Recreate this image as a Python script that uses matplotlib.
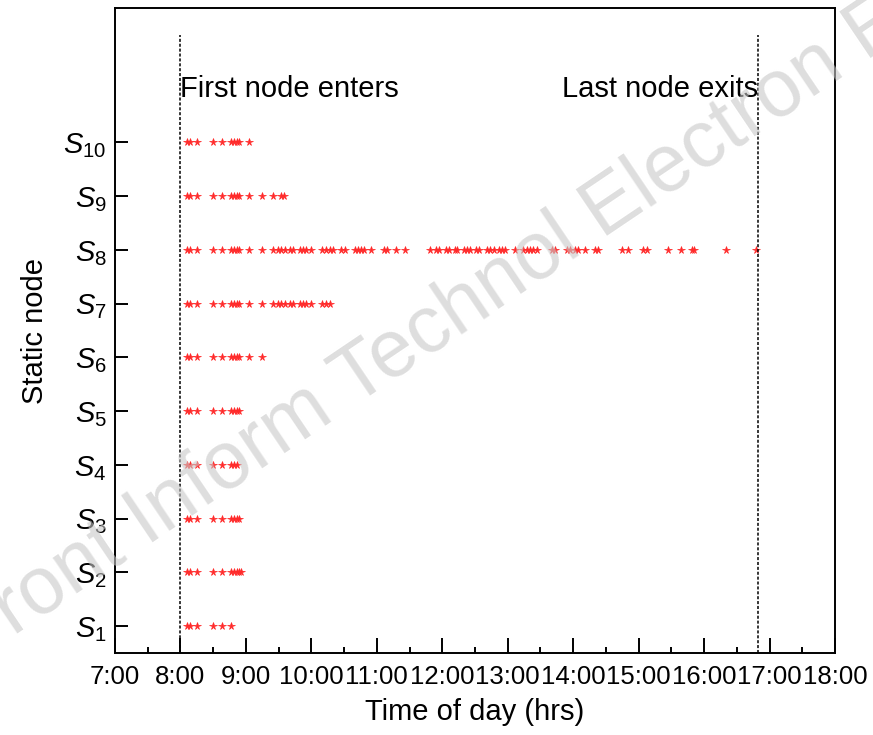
import matplotlib
matplotlib.use("Agg")
import matplotlib.pyplot as plt
from matplotlib.ticker import MultipleLocator

plt.rcParams["font.family"] = ["Liberation Sans", "DejaVu Sans"]
plt.rcParams["mathtext.fontset"] = "custom"
plt.rcParams["mathtext.it"] = "Liberation Sans:italic"
plt.rcParams["mathtext.rm"] = "Liberation Sans"

# contact times (hours of day) per static node
base = [8.10, 8.15, 8.25, 8.50, 8.63, 8.78, 8.82, 8.86, 8.90]
s1 = [8.10, 8.15, 8.25, 8.50, 8.63, 8.78]
s2 = base + [8.93]
s3 = base
s4 = [8.10, 8.15, 8.25, 8.50, 8.63, 8.78, 8.82, 8.86]
s5 = base
s6 = base + [9.04, 9.25]
s7 = base + [9.04, 9.25, 9.42, 9.49, 9.54, 9.59, 9.67, 9.72, 9.82, 9.87,
             9.92, 10.00, 10.17, 10.23, 10.28]
s8 = base + [9.04, 9.25, 9.42, 9.49, 9.54, 9.59, 9.67, 9.72, 9.82, 9.87,
             9.92, 10.00, 10.17, 10.23, 10.28, 10.33, 10.45, 10.51, 10.66,
             10.71, 10.76, 10.81, 10.91, 11.11, 11.16, 11.29, 11.43, 11.82,
             11.90, 11.95, 12.05, 12.10, 12.20, 12.23, 12.33, 12.38, 12.43,
             12.51, 12.56, 12.68, 12.73, 12.79, 12.86, 12.91, 12.96, 13.11,
             13.24, 13.29, 13.34, 13.39, 13.44, 13.67, 13.72, 13.90, 13.95,
             14.03, 14.08, 14.18, 14.33, 14.38, 14.74, 14.84, 15.07, 15.12,
             15.45, 15.65, 15.81, 15.85, 16.33, 16.80]
s9 = base + [9.04, 9.25, 9.42, 9.54, 9.58]
s10 = base + [9.04]
nodes = [s1, s2, s3, s4, s5, s6, s7, s8, s9, s10]
node_labels = [f"$S_{{{i}}}$" for i in range(1, 11)]

hours = list(range(7, 19))
hour_labels = [f"{h}:00" for h in hours]
first_enter = 8.0
last_exit = 16.83

fig = plt.figure(figsize=(8.73, 7.35), dpi=100)
ax = fig.add_axes([0.1317, 0.1116, 0.8248, 0.8774])

for i, times in enumerate(nodes, start=1):
    ax.plot(times, [i] * len(times), linestyle="none", marker="*",
            markersize=5.5, color="#ff2a2a", markeredgewidth=0.5)

for xv in (first_enter, last_exit):
    ax.plot([xv, xv], [0.5, 12], color="black", lw=1.1, linestyle=(0, (2, 1.2)))

ax.text(first_enter, 11, "First node enters", ha="left", va="center", fontsize=21)
ax.text(last_exit, 11, "Last node exits", ha="right", va="center", fontsize=21)

ax.set_xlim(7, 18)
ax.set_ylim(0.5, 12.5)
ax.set_xticks(hours)
ax.set_xticklabels(hour_labels, fontsize=18.5)
ax.xaxis.set_minor_locator(MultipleLocator(0.5))
ax.set_yticks(range(1, 11))
ax.set_yticklabels(node_labels, fontsize=21)
ax.tick_params(axis="x", which="major", direction="in", length=11, width=1.4, pad=9)
ax.tick_params(axis="x", which="minor", direction="in", length=4.5, width=1.4)
ax.tick_params(axis="y", which="major", direction="in", length=9.5, width=1.4, pad=6)
for sp in ax.spines.values():
    sp.set_linewidth(1.4)

ax.set_xlabel("Time of day (hrs)", fontsize=21, labelpad=6)
ax.set_ylabel("Static node", fontsize=21, labelpad=10)

fig.text(0.535, 0.585, "Front Inform Technol Electron Eng", fontsize=58,
         color="#c8c8c8", alpha=0.6, rotation=34, ha="center", va="center",
         zorder=10)

fig.savefig("out.png", dpi=100)
